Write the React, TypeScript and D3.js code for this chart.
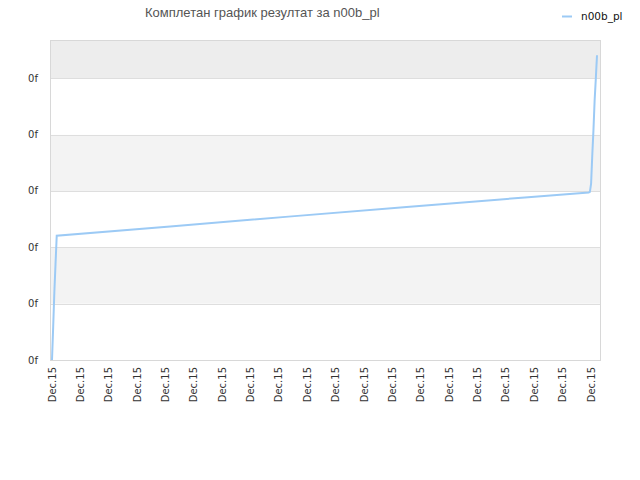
import React from 'react';
import * as d3 from 'd3';

// rank index along the x axis and the value read at that rank
const ranks = [0, 1, 2, 3, 4, 100, 200, 300, 400, 454, 455, 456, 457, 458, 459, 460, 461];
const values = [0, 11.8, 24.2, 34.3, 44.1, 47.4, 50.9, 54.3, 57.7, 59.5, 59.7, 62.6, 72.7, 81.6, 92.2, 99.9, 108.2];

const xTickLabels = [
  'Dec.15', 'Dec.15', 'Dec.15', 'Dec.15', 'Dec.15', 'Dec.15', 'Dec.15', 'Dec.15', 'Dec.15', 'Dec.15',
  'Dec.15', 'Dec.15', 'Dec.15', 'Dec.15', 'Dec.15', 'Dec.15', 'Dec.15', 'Dec.15', 'Dec.15', 'Dec.15',
];
const yTicks = [0, 20, 40, 60, 80, 100];
const yTickLabels = ['0f', '0f', '0f', '0f', '0f', '0f'];

const seriesName = 'n00b_pl';
const title = 'Комплетан график резултат за n00b_pl';

export default function App() {
  const width = 640;
  const height = 480;
  const plot = { left: 50.5, right: 600.5, top: 40.5, bottom: 360.5 };

  const x = d3.scaleLinear().domain([0, 461]).range([52, 597]);
  const y = d3.scaleLinear().domain([0, 113.5]).range([360, 40.3]);

  const tickStep = 24;
  const xTicks = xTickLabels.map((_, i) => i * tickStep);

  const line = d3
    .line<number>()
    .x((_, i) => x(ranks[i]))
    .y((d) => y(d));

  // bands between grid lines, alternating
  const bandEdges = [...yTicks, 113.5];
  const bands = bandEdges.slice(0, -1).map((v, i) => ({
    y0: y(bandEdges[i + 1]),
    y1: y(v),
    fill: i === bandEdges.length - 2 ? '#ededed' : i % 2 === 1 ? '#f3f3f3' : '#ffffff',
  }));

  const font = '"DejaVu Sans", Verdana, sans-serif';

  return (
    <svg
      width={width}
      height={height}
      style={{ position: 'absolute', left: 0, top: 0, background: '#fff' }}
      fontFamily={font}
    >
      <rect x={0} y={0} width={width} height={height} fill="#fff" />
      <text
        x={145}
        y={17}
        fontSize={13}
        fontFamily='"Liberation Sans", Arial, sans-serif'
        fill="#555"
      >
        {title}
      </text>

      {bands.map((b, i) => (
        <rect
          key={i}
          x={plot.left}
          y={b.y0}
          width={plot.right - plot.left}
          height={b.y1 - b.y0}
          fill={b.fill}
        />
      ))}

      {yTicks.map((t, i) => (
        <g key={i}>
          <line
            x1={plot.left}
            x2={plot.right}
            y1={Math.round(y(t)) + 0.5}
            y2={Math.round(y(t)) + 0.5}
            stroke="#dedede"
          />
          <text
            x={38}
            y={y(t)}
            dy="0.35em"
            textAnchor="end"
            fontSize={10}
            fill="#333"
          >
            {yTickLabels[i]}
          </text>
        </g>
      ))}

      <rect
        x={plot.left}
        y={plot.top}
        width={plot.right - plot.left}
        height={plot.bottom - plot.top}
        fill="none"
        stroke="#d8d8d8"
      />

      {xTicks.map((t, i) => (
        <text
          key={i}
          transform={`translate(${x(t) + 3.5}, ${367}) rotate(-90)`}
          textAnchor="end"
          fontSize={10}
          fill="#333"
        >
          {xTickLabels[i]}
        </text>
      ))}

      <path
        d={line(values) ?? ''}
        fill="none"
        stroke="#9ccaf5"
        strokeWidth={2}
      />

      <line x1={562} x2={572} y1={16.5} y2={16.5} stroke="#9ccaf5" strokeWidth={2} />
      <text x={581} y={20} fontSize={10.5} fill="#111">
        {seriesName}
      </text>
    </svg>
  );
}
